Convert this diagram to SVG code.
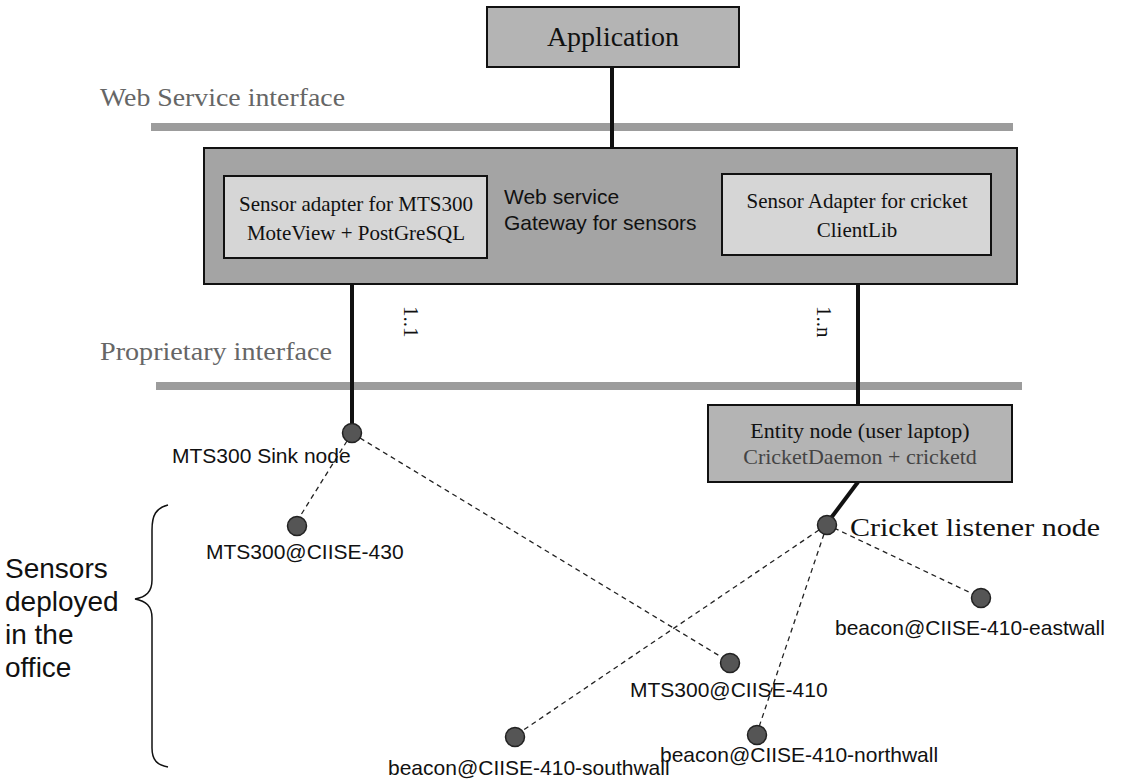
<svg xmlns="http://www.w3.org/2000/svg" width="1134" height="782" viewBox="0 0 1134 782">
<style>
.serif{font-family:"Liberation Serif","DejaVu Serif",serif;fill:#111}
.sans{font-family:"Liberation Sans",Arial,sans-serif;fill:#111}
.lbl{font-family:"Liberation Sans",Arial,sans-serif;fill:#111;font-size:21px}
.grey{fill:#666}
.box{stroke:#111;stroke-width:2}
.bar{fill:#9c9c9c}
.solid{stroke:#111;stroke-width:4;fill:none}
.dash{stroke:#222;stroke-width:1.3;stroke-dasharray:5,4;fill:none}
.dot{fill:#555;stroke:#222;stroke-width:1.5}
</style>
<rect width="1134" height="782" fill="#fff"/>
<g id="interfaces">
<text class="serif grey" x="100" y="106" font-size="26" textLength="245" lengthAdjust="spacingAndGlyphs">Web Service interface</text>
<rect class="bar" x="151" y="123" width="862" height="8"/>
<text class="serif grey" x="100" y="360" font-size="26" textLength="232" lengthAdjust="spacingAndGlyphs">Proprietary interface</text>
<rect class="bar" x="156" y="382" width="866" height="8"/>
</g>
<g id="connectors">
<line class="solid" x1="612" y1="67" x2="612" y2="148"/>
<line class="solid" x1="352" y1="258" x2="352" y2="425"/>
<line class="solid" x1="858" y1="255" x2="858" y2="405"/>
<line class="solid" x1="858" y1="482" x2="831" y2="518"/>
<line class="dash" x1="347" y1="441" x2="299" y2="518"/>
<line class="dash" x1="360" y1="438" x2="723" y2="658"/>
<line class="dash" x1="819" y1="530" x2="522" y2="731"/>
<line class="dash" x1="824" y1="534" x2="759" y2="727"/>
<line class="dash" x1="834" y1="528" x2="973" y2="594"/>
<text class="serif" font-size="21" transform="translate(404,306) rotate(90)">1..1</text>
<text class="serif" font-size="21" transform="translate(817,306) rotate(90)">1..n</text>
</g>
<g id="application">
<rect class="box" x="487" y="7" width="252" height="60" fill="#b4b4b4"/>
<text class="serif" x="613" y="46" font-size="28" text-anchor="middle">Application</text>
</g>
<g id="gateway">
<rect class="box" x="204" y="148" width="813" height="136" fill="#a4a4a4"/>
<text class="sans" x="504" y="204" font-size="21">Web service</text>
<text class="sans" x="504" y="230" font-size="21">Gateway for sensors</text>
</g>
<g id="adapter-mts300">
<rect class="box" x="224" y="176" width="263" height="82" fill="#d6d6d6"/>
<text class="serif" x="356" y="211" font-size="21" text-anchor="middle">Sensor adapter for MTS300</text>
<text class="serif" x="356" y="240" font-size="21" text-anchor="middle">MoteView + PostGreSQL</text>
</g>
<g id="adapter-cricket">
<rect class="box" x="722" y="174" width="269" height="81" fill="#d6d6d6"/>
<text class="serif" x="857" y="208" font-size="21" text-anchor="middle">Sensor Adapter for cricket</text>
<text class="serif" x="857" y="237" font-size="21" text-anchor="middle">ClientLib</text>
</g>
<g id="entity">
<rect class="box" x="708" y="405" width="304" height="77" fill="#b4b4b4"/>
<text class="serif" x="860" y="438" font-size="22" text-anchor="middle">Entity node (user laptop)</text>
<text class="serif" x="860" y="464" font-size="22" text-anchor="middle" style="fill:#444">CricketDaemon + cricketd</text>
</g>
<g id="sink">
<circle class="dot" cx="352" cy="433" r="9.5"/>
<text class="lbl" x="172" y="463">MTS300 Sink node</text>
</g>
<g id="cricket-listener">
<circle class="dot" cx="827" cy="525" r="9.5"/>
<text class="serif" x="850" y="536" font-size="26" textLength="250" lengthAdjust="spacingAndGlyphs">Cricket listener node</text>
</g>
<g id="mts430">
<circle class="dot" cx="297" cy="526" r="9.5"/>
<text class="lbl" x="206" y="559">MTS300@CIISE-430</text>
</g>
<g id="mts410">
<circle class="dot" cx="730" cy="663" r="9.5"/>
<text class="lbl" x="630" y="697">MTS300@CIISE-410</text>
</g>
<g id="southwall">
<circle class="dot" cx="515" cy="737" r="9.5"/>
<text class="lbl" x="388" y="775">beacon@CIISE-410-southwall</text>
</g>
<g id="northwall">
<circle class="dot" cx="757" cy="735" r="9.5"/>
<text class="lbl" x="660" y="762">beacon@CIISE-410-northwall</text>
</g>
<g id="eastwall">
<circle class="dot" cx="981" cy="598" r="9.5"/>
<text class="lbl" x="835" y="635">beacon@CIISE-410-eastwall</text>
</g>
<g id="sensors-group">
<path d="M168,505 C156,508 152,515 152,530 L152,580 C152,592 146,597 135,599 C146,601 152,606 152,618 L152,748 C152,760 157,765 168,767" fill="none" stroke="#111" stroke-width="1.5"/>
<text class="sans" x="5" y="578" font-size="28">Sensors</text>
<text class="sans" x="5" y="611" font-size="28">deployed</text>
<text class="sans" x="5" y="644" font-size="28">in the</text>
<text class="sans" x="5" y="677" font-size="28">office</text>
</g>
</svg>
